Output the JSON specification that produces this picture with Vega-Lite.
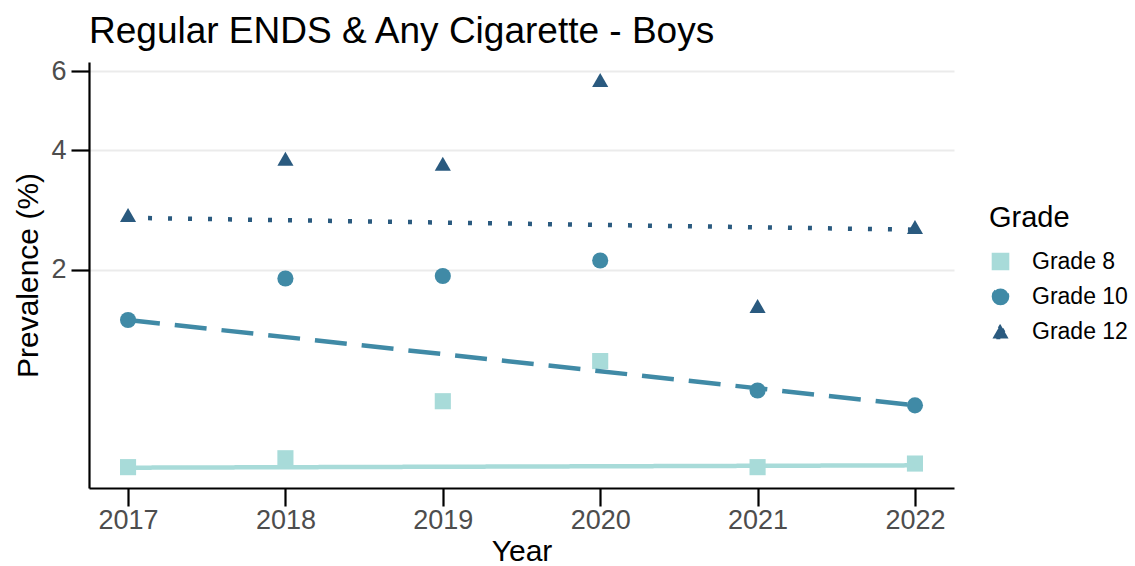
{
  "$schema": "https://vega.github.io/schema/vega-lite/v6.json",
  "width": 865,
  "height": 426,
  "autosize": "none",
  "padding": {"left": 89, "top": 62, "right": 181, "bottom": 78},
  "background": "white",
  "title": {
    "text": "Regular ENDS & Any Cigarette - Boys",
    "anchor": "start",
    "frame": "group",
    "font": "Liberation Sans",
    "fontSize": 37,
    "fontWeight": "normal",
    "color": "black",
    "offset": 6
  },
  "config": {
    "view": {"stroke": null},
    "axis": {
      "domainColor": "black",
      "domainWidth": 2.2,
      "tickColor": "black",
      "tickWidth": 2.2,
      "tickSize": 18,
      "labelFont": "Liberation Sans",
      "labelFontSize": 27,
      "labelColor": "#4d4d4d",
      "titleFont": "Liberation Sans",
      "titleFontSize": 30,
      "titleFontWeight": "normal",
      "titleColor": "black",
      "gridColor": "#ebebeb",
      "gridWidth": 2
    }
  },
  "datasets": {
    "points": [
      {"Year": 2017, "Grade": "Grade 8", "Prevalence": 0.29},
      {"Year": 2018, "Grade": "Grade 8", "Prevalence": 0.34},
      {"Year": 2019, "Grade": "Grade 8", "Prevalence": 0.71},
      {"Year": 2020, "Grade": "Grade 8", "Prevalence": 1.03},
      {"Year": 2021, "Grade": "Grade 8", "Prevalence": 0.29},
      {"Year": 2022, "Grade": "Grade 8", "Prevalence": 0.31},
      {"Year": 2017, "Grade": "Grade 10", "Prevalence": 1.42},
      {"Year": 2018, "Grade": "Grade 10", "Prevalence": 1.89},
      {"Year": 2019, "Grade": "Grade 10", "Prevalence": 1.92},
      {"Year": 2020, "Grade": "Grade 10", "Prevalence": 2.12},
      {"Year": 2021, "Grade": "Grade 10", "Prevalence": 0.79},
      {"Year": 2022, "Grade": "Grade 10", "Prevalence": 0.68},
      {"Year": 2017, "Grade": "Grade 12", "Prevalence": 2.79},
      {"Year": 2018, "Grade": "Grade 12", "Prevalence": 3.82},
      {"Year": 2019, "Grade": "Grade 12", "Prevalence": 3.72},
      {"Year": 2020, "Grade": "Grade 12", "Prevalence": 5.75},
      {"Year": 2021, "Grade": "Grade 12", "Prevalence": 1.57},
      {"Year": 2022, "Grade": "Grade 12", "Prevalence": 2.6}
    ],
    "trend": [
      {"Year": 2017, "Grade": "Grade 8", "Fit": 0.287},
      {"Year": 2022, "Grade": "Grade 8", "Fit": 0.30},
      {"Year": 2017, "Grade": "Grade 10", "Fit": 1.42},
      {"Year": 2022, "Grade": "Grade 10", "Fit": 0.68},
      {"Year": 2017, "Grade": "Grade 12", "Fit": 2.745},
      {"Year": 2022, "Grade": "Grade 12", "Fit": 2.56}
    ]
  },
  "layer": [
    {
      "data": {"name": "points"},
      "mark": {"type": "point", "filled": true, "opacity": 1, "strokeWidth": 0, "size": 260},
      "encoding": {
        "x": {
          "field": "Year",
          "type": "quantitative",
          "scale": {"domain": [2016.752, 2022.248], "nice": false, "zero": false},
          "axis": {
            "values": [2017, 2018, 2019, 2020, 2021, 2022],
            "format": "d",
            "grid": false,
            "labelPadding": 1,
            "title": "Year",
            "titlePadding": 3
          }
        },
        "y": {
          "field": "Prevalence",
          "type": "quantitative",
          "scale": {"type": "symlog", "constant": 1, "domain": [0.18, 6.29], "nice": false, "zero": false},
          "axis": {
            "values": [2, 4, 6],
            "format": "d",
            "grid": true,
            "labelPadding": 5,
            "title": "Prevalence (%)",
            "titlePadding": 7
          }
        },
        "color": {
          "field": "Grade",
          "type": "nominal",
          "scale": {"domain": ["Grade 8", "Grade 10", "Grade 12"], "range": ["#a8dbd9", "#408aa6", "#2a5a7f"]},
          "legend": {
            "title": "Grade",
            "orient": "none",
            "legendX": 900,
            "legendY": 142,
            "padding": 0,
            "titleFont": "Liberation Sans",
            "titleFontSize": 29,
            "titleFontWeight": "normal",
            "titleColor": "black",
            "titlePadding": 17,
            "labelFont": "Liberation Sans",
            "labelFontSize": 23,
            "labelColor": "black",
            "labelOffset": 20,
            "symbolSize": 260,
            "rowPadding": 11
          }
        },
        "shape": {
          "field": "Grade",
          "type": "nominal",
          "scale": {"domain": ["Grade 8", "Grade 10", "Grade 12"], "range": ["square", "circle", "triangle-up"]},
          "legend": null
        }
      }
    },
    {
      "data": {"name": "trend"},
      "mark": {"type": "line", "strokeWidth": 4.5, "strokeCap": "butt"},
      "encoding": {
        "x": {"field": "Year", "type": "quantitative"},
        "y": {"field": "Fit", "type": "quantitative"},
        "color": {"field": "Grade", "type": "nominal"},
        "strokeDash": {
          "field": "Grade",
          "type": "nominal",
          "scale": {"domain": ["Grade 8", "Grade 10", "Grade 12"], "range": [[1, 0], [32, 15], [4, 16]]},
          "legend": null
        }
      }
    }
  ]
}
